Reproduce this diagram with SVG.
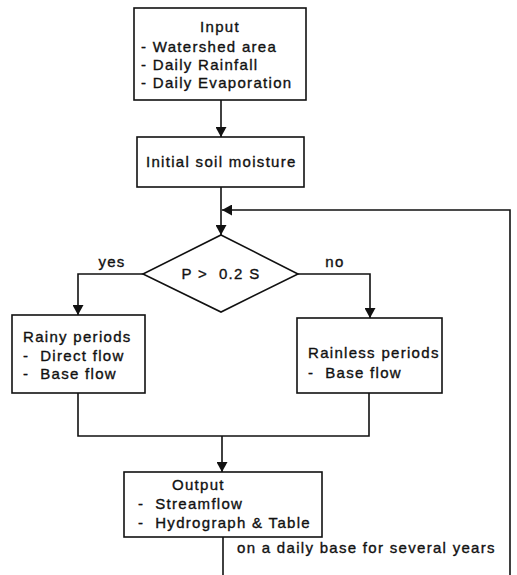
<svg xmlns="http://www.w3.org/2000/svg" width="517" height="575" viewBox="0 0 517 575">
<style>
.box{fill:#fff;stroke:#111;stroke-width:1.6}
.ln{fill:none;stroke:#111;stroke-width:1.6}
text{font-family:"Liberation Sans",Arial,sans-serif;font-size:15px;fill:#111;stroke:#111;stroke-width:0.35;letter-spacing:1.3px}
</style>
<defs>
<marker id="ah" markerWidth="10" markerHeight="11" refX="10" refY="5.5" orient="auto" markerUnits="userSpaceOnUse">
<path d="M0,0 L10,5.5 L0,11 Z" fill="#111"/>
</marker>
</defs>
<g id="connectors">
<path class="ln" d="M221,100 L221,137" marker-end="url(#ah)"/>
<path class="ln" d="M221,187 L221,235" marker-end="url(#ah)"/>
<path class="ln" d="M143,274 L78,274 L78,315" marker-end="url(#ah)"/>
<path class="ln" d="M298,274 L370,274 L370,318" marker-end="url(#ah)"/>
<path class="ln" d="M78,393 L78,436 L369,436 L369,393"/>
<path class="ln" d="M222,436 L222,472" marker-end="url(#ah)"/>
<path class="ln" d="M223,537 L223,575"/>
<path class="ln" d="M510,575 L510,210 L222,210" marker-end="url(#ah)"/>
<text x="112" y="267" text-anchor="middle">yes</text>
<text x="335" y="267" text-anchor="middle">no</text>
<text x="237" y="553">on a daily base for several years</text>
</g>
<g id="input">
<rect class="box" x="134" y="8" width="172" height="92"/>
<text x="220" y="32" text-anchor="middle">Input</text>
<text x="141" y="52">- Watershed area</text>
<text x="141" y="70">- Daily Rainfall</text>
<text x="141" y="88">- Daily Evaporation</text>
</g>
<g id="initial">
<rect class="box" x="137" y="137" width="167" height="50"/>
<text x="146" y="167">Initial soil moisture</text>
</g>
<g id="decision">
<polygon class="box" points="221,235 298,274 221,312 143,274"/>
<text x="221" y="279" text-anchor="middle" xml:space="preserve">P &gt;  0.2 S</text>
</g>
<g id="rainy">
<rect class="box" x="12" y="315" width="133" height="78"/>
<text x="23" y="342">Rainy periods</text>
<text x="23" y="361" xml:space="preserve">-  Direct flow</text>
<text x="23" y="379" xml:space="preserve">-  Base flow</text>
</g>
<g id="rainless">
<rect class="box" x="297" y="318" width="145" height="75"/>
<text x="308" y="358">Rainless periods</text>
<text x="308" y="378" xml:space="preserve">-  Base flow</text>
</g>
<g id="output">
<rect class="box" x="124" y="472" width="198" height="65"/>
<text x="172" y="490">Output</text>
<text x="138" y="509" xml:space="preserve">-  Streamflow</text>
<text x="138" y="528" xml:space="preserve">-  Hydrograph &amp; Table</text>
</g>
</svg>
